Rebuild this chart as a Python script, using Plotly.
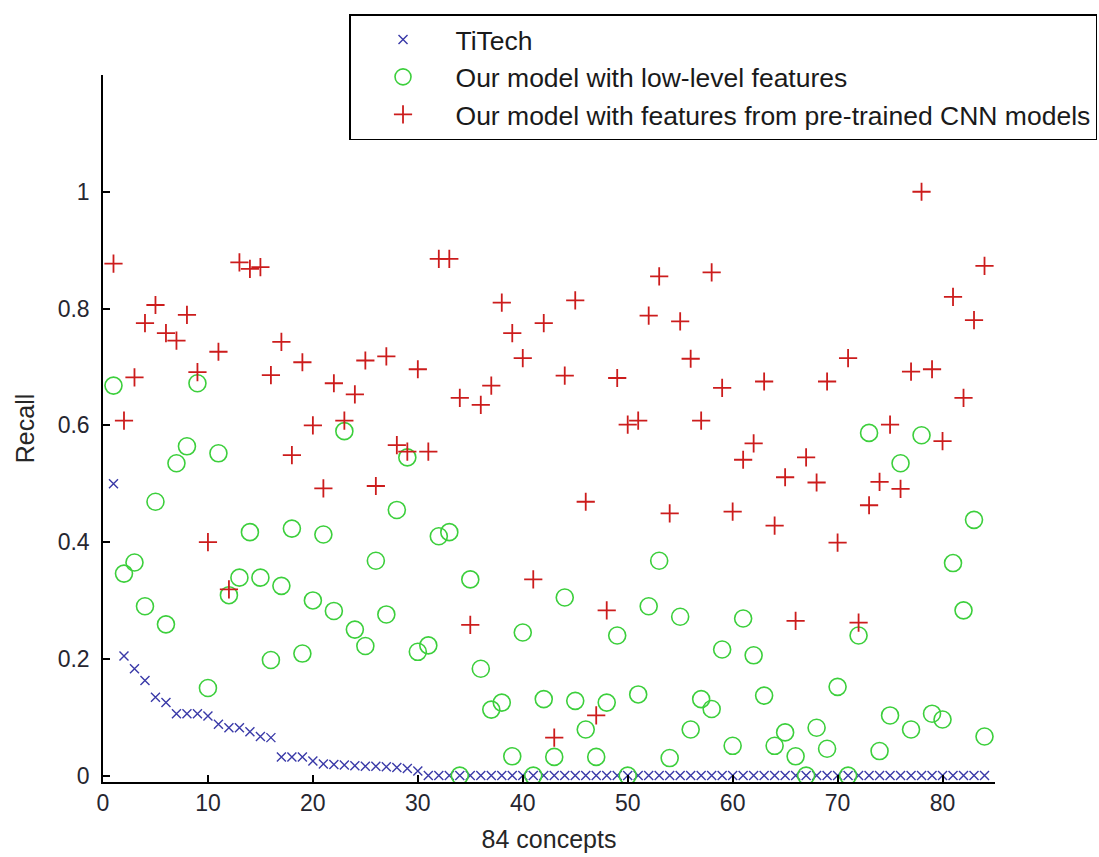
import plotly.graph_objects as go

concepts = list(range(1, 85))

titech = [0.5, 0.205, 0.183, 0.163, 0.134, 0.125, 0.106, 0.106, 0.106, 0.102,
          0.088, 0.082, 0.082, 0.075, 0.067, 0.065, 0.032, 0.032, 0.032, 0.025,
          0.020, 0.019, 0.018, 0.017, 0.016, 0.016, 0.015, 0.014, 0.012, 0.008] + [0.0] * 54

low_level = [0.668, 0.346, 0.365, 0.290, 0.469, 0.259, 0.535, 0.564, 0.672, 0.150,
             0.552, 0.309, 0.339, 0.417, 0.339, 0.198, 0.325, 0.423, 0.209, 0.300,
             0.413, 0.282, 0.590, 0.250, 0.222, 0.368, 0.276, 0.455, 0.545, 0.212,
             0.223, 0.410, 0.417, 0.000, 0.336, 0.183, 0.113, 0.125, 0.033, 0.245,
             0.000, 0.131, 0.032, 0.305, 0.128, 0.079, 0.032, 0.125, 0.240, 0.000,
             0.139, 0.290, 0.368, 0.030, 0.272, 0.079, 0.131, 0.114, 0.216, 0.051,
             0.269, 0.206, 0.137, 0.051, 0.074, 0.033, 0.000, 0.082, 0.046, 0.152,
             0.000, 0.240, 0.587, 0.042, 0.103, 0.535, 0.079, 0.583, 0.106, 0.096,
             0.364, 0.283, 0.438, 0.067]

cnn = [0.877, 0.608, 0.682, 0.775, 0.806, 0.758, 0.745, 0.789, 0.691, 0.400,
       0.726, 0.319, 0.879, 0.868, 0.871, 0.686, 0.743, 0.549, 0.708, 0.600,
       0.492, 0.672, 0.608, 0.653, 0.711, 0.496, 0.718, 0.566, 0.555, 0.696,
       0.555, 0.885, 0.885, 0.647, 0.258, 0.635, 0.668, 0.810, 0.758, 0.715,
       0.336, 0.775, 0.065, 0.685, 0.814, 0.469, 0.103, 0.283, 0.681, 0.601,
       0.608, 0.788, 0.855, 0.449, 0.778, 0.714, 0.608, 0.862, 0.664, 0.452,
       0.541, 0.569, 0.675, 0.428, 0.511, 0.265, 0.545, 0.502, 0.675, 0.399,
       0.715, 0.262, 0.463, 0.503, 0.601, 0.491, 0.692, 1.000, 0.696, 0.573,
       0.820, 0.647, 0.780, 0.873]

x_ticks = [0, 10, 20, 30, 40, 50, 60, 70, 80]
y_ticks = [0, 0.2, 0.4, 0.6, 0.8, 1]
y_tick_labels = ["0", "0.2", "0.4", "0.6", "0.8", "1"]

names = ["TiTech", "Our model with low-level features",
         "Our model with features from pre-trained CNN models"]

fig = go.Figure()
fig.add_trace(go.Scatter(
    x=concepts, y=titech, mode="markers", name=names[0], legendgroup="a",
    marker=dict(symbol="x-thin", size=9, line=dict(color="#3a3aa8", width=1.4), color="#3a3aa8"),
))
fig.add_trace(go.Scatter(
    x=concepts, y=low_level, mode="markers", name=names[1], legendgroup="b",
    marker=dict(symbol="circle-open", size=17, line=dict(color="#3ccf3c", width=1.6), color="#3ccf3c"),
))
fig.add_trace(go.Scatter(
    x=concepts, y=cnn, mode="markers", name=names[2], legendgroup="c",
    marker=dict(symbol="cross-thin", size=13, line=dict(color="#cc1c1c", width=1.8), color="#cc1c1c"),
))

font_fam = "Liberation Sans, Arial, sans-serif"

fig.update_layout(
    width=1099, height=857,
    margin=dict(l=103, r=104, t=75, b=75, autoexpand=False),
    paper_bgcolor="white", plot_bgcolor="white",
    font=dict(family=font_fam, size=23, color="#262630"),
    showlegend=True,
    legend=dict(
        x=0.2758, y=1.086, xanchor="left", yanchor="top",
        bgcolor="white", bordercolor="black", borderwidth=1.5,
        font=dict(family=font_fam, size=26.5, color="#1a1a1a"),
        itemwidth=95, traceorder="grouped", tracegroupgap=0,
    ),
    xaxis=dict(
        range=[0, 85], tickvals=x_ticks, showgrid=False, zeroline=False,
        showline=True, linecolor="black", linewidth=1.5, mirror=False,
        ticks="inside", ticklen=7, tickwidth=1.5, tickcolor="black",
        tickfont=dict(size=23, color="#262630"),
        title=dict(text="84 concepts", font=dict(size=25, color="#262626"), standoff=15),
    ),
    yaxis=dict(
        range=[-0.011, 1.2], tickvals=y_ticks, ticktext=y_tick_labels, showgrid=False,
        zeroline=False, showline=True, linecolor="black", linewidth=1.5, mirror=False,
        ticks="inside", ticklen=7, tickwidth=1.5, tickcolor="black",
        tickfont=dict(size=23, color="#262630"), ticklabelstandoff=7,
        title=dict(text="Recall", font=dict(size=25, color="#262626"), standoff=16),
    ),
)

fig.write_html("out.html")
